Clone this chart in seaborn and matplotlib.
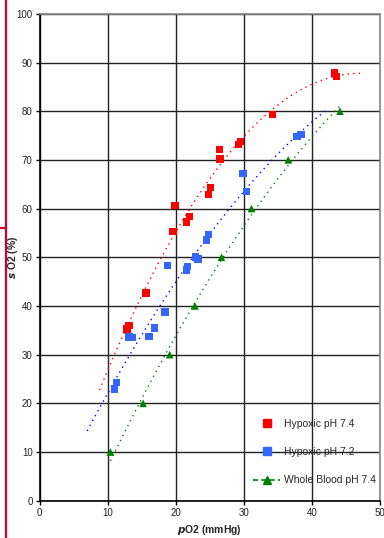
import numpy as np
import pandas as pd
import matplotlib
matplotlib.use('Agg')
import matplotlib.pyplot as plt
from matplotlib.lines import Line2D
import seaborn as sns

# hypoxic blood, pH 7.4
po2_ph74 = [12.8, 13.1, 15.6, 19.6, 19.9, 21.6, 22.0, 24.8, 25.1, 26.4, 26.5, 29.2, 29.5, 34.2, 43.3, 43.6]
so2_ph74 = [35.3, 36.0, 42.7, 55.3, 60.6, 57.3, 58.4, 62.9, 64.3, 72.1, 70.2, 73.2, 73.8, 79.3, 87.8, 87.1]

# hypoxic blood, pH 7.2
po2_ph72 = [11.0, 11.3, 13.1, 13.6, 16.1, 16.9, 18.4, 18.8, 21.6, 21.7, 22.9, 23.3, 24.5, 24.8, 29.9, 30.4, 37.8, 38.4]
so2_ph72 = [22.9, 24.3, 33.6, 33.5, 33.7, 35.5, 38.8, 48.3, 47.4, 48.1, 50.1, 49.7, 53.6, 54.7, 67.2, 63.5, 74.8, 75.2]

# whole blood, pH 7.4
po2_whole = [10.4, 15.2, 19.1, 22.8, 26.7, 31.1, 36.5, 44.1]
so2_whole = [10, 20, 30, 40, 50, 60, 70, 80]

labels = ['Hypoxic pH 7.4', 'Hypoxic pH 7.2', 'Whole Blood pH 7.4']
colors = ['#FF0000', '#3366FF', '#008000']
trend_colors = ['#FF0000', '#0000FF', '#008000']
forecast = [(4.0, 4.0), (4.0, 3.5), (0.0, 0.0)]  # backward / forward extension of trendline

sns.set_style('white')
plt.rcParams['font.family'] = ['Liberation Sans', 'DejaVu Sans']

fig = plt.figure(figsize=(3.84, 5.38), dpi=100)
ax = fig.add_axes([0.103, 0.0693, 0.887, 0.905])

series = [(po2_ph74, so2_ph74), (po2_ph72, so2_ph72), (po2_whole, so2_whole)]
markers = ['s', 's', '^']

# trendlines (2nd order fit, like the spreadsheet)
for (xs, ys), col, (back, fwd) in zip(series, trend_colors, forecast):
    coef = np.polyfit(xs, ys, 2)
    xx = np.linspace(min(xs) - back, max(xs) + fwd, 100)
    ax.plot(xx, np.polyval(coef, xx), color=col, lw=1.0, ls=(0, (1, 3)), zorder=3)

for (xs, ys), col, mk, lab in zip(series, colors, markers, labels):
    df = pd.DataFrame({'pO2': xs, 'sO2': ys})
    sns.scatterplot(data=df, x='pO2', y='sO2', ax=ax, color=col, marker=mk,
                    s=30, edgecolor='none', linewidth=0, zorder=4)

ax.set_xlim(0, 50)
ax.set_ylim(0, 100)
ax.set_xticks(range(0, 51, 10))
ax.set_yticks(range(0, 101, 10))
ax.grid(True, color='#222222', lw=1.0)
ax.set_axisbelow(True)
for s in ['top', 'right']:
    ax.spines[s].set_color('#888888')
for s in ['left', 'bottom']:
    ax.spines[s].set_color('black')
for s in ax.spines.values():
    s.set_linewidth(1.2)
ax.tick_params(axis='both', direction='out', length=3, width=1, color='black',
               labelsize=7, labelcolor='#222222', pad=2, left=True, bottom=True)

ax.set_xlabel(r'$\bfit{p}$O2 (mmHg)', fontsize=7.5, fontweight='bold', labelpad=4)
ax.set_ylabel(r'$\bfit{s}$ O2 (%)', fontsize=7.5, fontweight='bold')
ax.yaxis.set_label_coords(-0.057, 0.5)

handles = [
    Line2D([], [], color=colors[0], marker='s', ls='none', markersize=6),
    Line2D([], [], color=colors[1], marker='s', ls='none', markersize=6),
    Line2D([], [], color=colors[2], marker='^', ls=(0, (3, 2)), lw=1.2, markersize=6),
]
ax.legend(handles, labels, loc='center left', bbox_to_anchor=(0.6, 0.1), frameon=False,
          fontsize=7.5, labelspacing=1.75, handlelength=2.6, handletextpad=0.3)

# red page margin marks
fig.add_artist(Line2D([6 / 384, 6 / 384], [0, 1], color='#CC0033', lw=1.6))
fig.add_artist(Line2D([0, 6 / 384], [1 - 228 / 538, 1 - 228 / 538], color='#CC0033', lw=1.6))

fig.savefig('out.png', dpi=100)
